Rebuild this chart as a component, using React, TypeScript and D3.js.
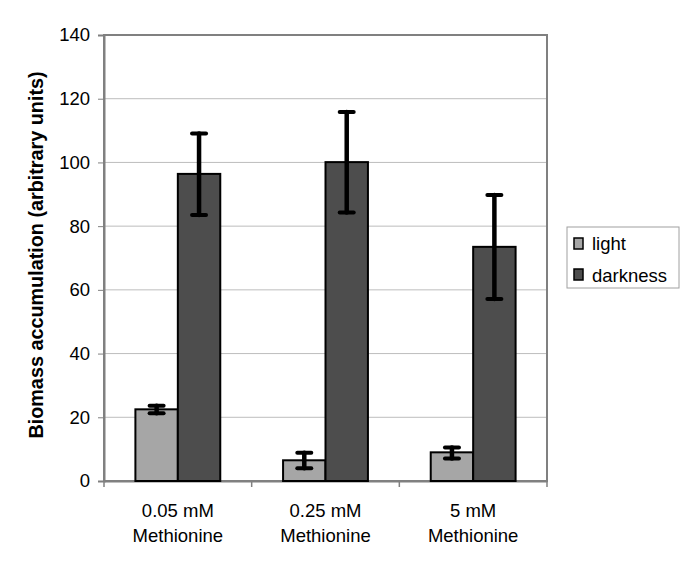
import React, { useRef, useEffect } from 'react';
import * as d3 from 'd3';

const categories = ['0.05 mM|Methionine', '0.25 mM|Methionine', '5 mM|Methionine'];
const seriesNames = ['light', 'darkness'];
const lightValues = [22.5, 6.5, 9.0];
const lightLow = [21.3, 4.0, 7.1];
const lightHigh = [23.6, 8.9, 10.5];
const darkValues = [96.4, 100.1, 73.5];
const darkLow = [83.5, 84.3, 57.1];
const darkHigh = [109.1, 115.8, 89.8];
const yTicks = [0, 20, 40, 60, 80, 100, 120, 140];
const colors = ['#a6a6a6', '#4d4d4d'];

const App = () => {
  const svgRef = useRef<SVGSVGElement>(null);
  useEffect(() => {
    d3.select(svgRef.current).selectAll('*').remove();
    const svg = d3.select(svgRef.current);
    const font = 'Arial, "Liberation Sans", sans-serif';
    const fs = '18.5px';
    const left = 104, right = 547, top = 35, bottom = 481;

    const x = d3.scaleBand().domain(categories).range([left, right]).paddingInner(0).paddingOuter(0);
    const sub = d3.scaleBand().domain(seriesNames).range([0, x.bandwidth()]).paddingOuter(0.74).paddingInner(0);
    const y = d3.scaleLinear().domain([0, 140]).range([bottom, top]);

    // gridlines
    svg.append('g')
      .selectAll('line')
      .data(yTicks.filter((d) => d > 0 && d < 140))
      .join('line')
      .attr('x1', left).attr('x2', right)
      .attr('y1', (d) => y(d)).attr('y2', (d) => y(d))
      .attr('stroke', '#bdbdbd').attr('stroke-width', 1);

    // plot frame
    svg.append('rect')
      .attr('x', left).attr('y', top)
      .attr('width', right - left).attr('height', bottom - top)
      .attr('fill', 'none').attr('stroke', '#808080').attr('stroke-width', 2);

    // y axis
    const yAxis = d3.axisLeft(y).tickValues(yTicks).tickSize(6).tickPadding(8).tickFormat((d) => `${d}`);
    const gy = svg.append('g').attr('transform', `translate(${left},0)`).call(yAxis);
    gy.select('.domain').attr('stroke', '#808080').attr('stroke-width', 2);
    gy.selectAll('.tick line').attr('stroke', '#808080');
    gy.selectAll('.tick text').style('font-family', font).style('font-size', fs).attr('fill', '#000');

    // x axis
    const xAxis = d3.axisBottom(x).tickSize(0).tickFormat(() => '');
    const gx = svg.append('g').attr('transform', `translate(0,${bottom})`).call(xAxis);
    gx.select('.domain').attr('stroke', '#808080').attr('stroke-width', 2);
    gx.selectAll('.sep')
      .data([left, ...categories.map((c) => (x(c) as number) + x.bandwidth())])
      .join('line')
      .attr('x1', (d) => d).attr('x2', (d) => d)
      .attr('y1', 0).attr('y2', 6)
      .attr('stroke', '#808080').attr('stroke-width', 1.5);

    categories.forEach((c) => {
      const cx = (x(c) as number) + x.bandwidth() / 2;
      c.split('|').forEach((t, i) => {
        svg.append('text')
          .attr('x', cx).attr('y', 517 + i * 25)
          .attr('text-anchor', 'middle')
          .style('font-family', font).style('font-size', fs)
          .text(t);
      });
    });

    // bars
    const series = [
      { name: seriesNames[0], values: lightValues, low: lightLow, high: lightHigh, color: colors[0] },
      { name: seriesNames[1], values: darkValues, low: darkLow, high: darkHigh, color: colors[1] },
    ];
    series.forEach((s) => {
      const g = svg.append('g');
      categories.forEach((c, i) => {
        const bx = (x(c) as number) + (sub(s.name) as number);
        g.append('rect')
          .attr('x', bx).attr('y', y(s.values[i]))
          .attr('width', sub.bandwidth()).attr('height', y(0) - y(s.values[i]))
          .attr('fill', s.color).attr('stroke', '#000').attr('stroke-width', 2);
      });
    });

    // error bars
    series.forEach((s) => {
      categories.forEach((c, i) => {
        const cx = (x(c) as number) + (sub(s.name) as number) + sub.bandwidth() / 2;
        const g = svg.append('g').attr('stroke', '#000').attr('stroke-linecap', 'round');
        g.append('line')
          .attr('x1', cx).attr('x2', cx)
          .attr('y1', y(s.low[i])).attr('y2', y(s.high[i]))
          .attr('stroke-width', 4.5);
        [s.low[i], s.high[i]].forEach((v) => {
          g.append('line')
            .attr('x1', cx - 7).attr('x2', cx + 7)
            .attr('y1', y(v)).attr('y2', y(v))
            .attr('stroke-width', 4);
        });
      });
    });

    // y label
    svg.append('text')
      .attr('transform', 'translate(43,255) rotate(-90)')
      .attr('text-anchor', 'middle')
      .style('font-family', font).style('font-size', '19.8px').style('font-weight', 'bold')
      .text('Biomass accumulation (arbitrary units)');

    // legend
    const lg = svg.append('g');
    lg.append('rect')
      .attr('x', 567).attr('y', 227)
      .attr('width', 112).attr('height', 61)
      .attr('fill', '#fff').attr('stroke', '#a0a0a0').attr('stroke-width', 1);
    seriesNames.forEach((n, i) => {
      lg.append('rect')
        .attr('x', 574).attr('y', 238 + i * 31)
        .attr('width', 9).attr('height', 11)
        .attr('fill', colors[i]).attr('stroke', '#000').attr('stroke-width', 1.5);
      lg.append('text')
        .attr('x', 592).attr('y', 250 + i * 32)
        .style('font-family', font).style('font-size', fs)
        .text(n);
    });
  }, []);

  return (
    <svg ref={svgRef} width={685} height={570} style={{ display: 'block', position: 'absolute', left: 0, top: 0 }}></svg>
  );
};

export default App;
